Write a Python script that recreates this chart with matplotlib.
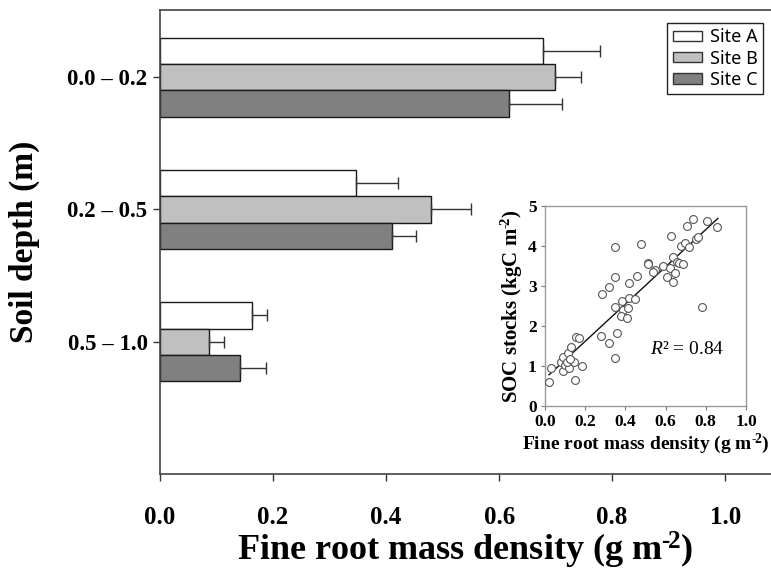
import numpy as np
import matplotlib
matplotlib.use("Agg")
import matplotlib.pyplot as plt
from matplotlib.patches import Patch

plt.rcParams['font.family'] = ['Liberation Serif', 'DejaVu Serif']
plt.rcParams['mathtext.fontset'] = 'custom'
plt.rcParams['mathtext.rm'] = 'Liberation Serif:bold'
plt.rcParams['mathtext.bf'] = 'Liberation Serif:bold'
plt.rcParams['mathtext.it'] = 'Liberation Serif:italic'

# Main bar chart data
depths = ['0.0 – 0.2', '0.2 – 0.5', '0.5 – 1.0']
sites = ['Site A', 'Site B', 'Site C']
site_a = [0.677, 0.347, 0.163]
site_b = [0.699, 0.480, 0.086]
site_c = [0.618, 0.411, 0.142]
err_a = [0.102, 0.074, 0.026]
err_b = [0.046, 0.071, 0.027]
err_c = [0.093, 0.042, 0.046]
bar_colors = ['#ffffff', '#c0c0c0', '#808080']
x_ticks = [0.0, 0.2, 0.4, 0.6, 0.8, 1.0]

# Inset scatter data (fine root mass density vs SOC stocks)
frmd = [0.020, 0.028, 0.078, 0.091, 0.090, 0.100, 0.121, 0.116, 0.128, 0.144,
        0.152, 0.169, 0.147, 0.186, 0.110, 0.125,
        0.277, 0.317, 0.348, 0.360, 0.347, 0.282, 0.320, 0.348, 0.348, 0.385,
        0.390, 0.376, 0.410, 0.415, 0.418, 0.420, 0.450, 0.459, 0.478,
        0.514, 0.510, 0.547, 0.539, 0.585, 0.609, 0.627, 0.622, 0.635, 0.637,
        0.647, 0.655, 0.668, 0.688, 0.675, 0.697, 0.705, 0.738, 0.718, 0.749,
        0.760, 0.780, 0.804, 0.857]
soc = [0.59, 0.94, 1.11, 1.22, 0.875, 1.03, 0.96, 1.32, 1.47, 1.11,
       1.73, 1.69, 0.64, 0.99, 1.10, 1.18,
       1.75, 1.57, 1.21, 1.82, 2.48, 2.79, 2.97, 3.22, 3.97, 2.63,
       2.40, 2.25, 2.19, 2.44, 2.69, 3.08, 2.68, 3.26, 4.06,
       3.58, 3.55, 3.40, 3.36, 3.50, 3.23, 4.26, 3.46, 3.73, 3.09,
       3.32, 3.61, 3.57, 3.55, 4.01, 4.07, 4.50, 4.67, 3.97, 4.18,
       4.23, 2.48, 4.62, 4.48]
fit_x = [0.02, 0.86]
fit_y = [0.78, 4.69]

unit = 'm$^{\u2010\\!2}$'

fig = plt.figure(figsize=(7.71, 5.76), dpi=100)
ax = fig.add_axes([160/771, 102/576, 611/771, 464/576])

y = np.arange(len(depths))
h = 0.2
ekw = dict(ecolor='#333333', elinewidth=1.0, capsize=4.5, capthick=1.0)
for vals, errs, col, off in zip([site_a, site_b, site_c], [err_a, err_b, err_c],
                                bar_colors, [-h, 0, h]):
    ax.barh(y + off, vals, height=h, color=col, edgecolor='#1a1a1a', linewidth=1.0,
            xerr=[np.zeros(len(errs)), errs], error_kw=ekw)

ax.set_ylim(3.0, -0.508)
ax.set_xlim(0, 1.081)
ax.set_yticks(y)
ax.set_yticklabels(depths, fontsize=16.5, fontweight='bold')
ax.set_xticks(x_ticks)
ax.set_xticklabels([f'{t:.1f}' for t in x_ticks], fontsize=18, fontweight='bold')
ax.tick_params(axis='both', direction='out', length=5, width=1, color='#333333')
ax.tick_params(axis='x', pad=18)
ax.tick_params(axis='y', pad=4)
for s in ['left', 'bottom', 'top']:
    ax.spines[s].set_color('#444444')
    ax.spines[s].set_linewidth(1.2)
ax.spines['right'].set_visible(False)
ax.set_xlabel('Fine root mass density (g ' + unit + ')', fontsize=26, fontweight='bold', labelpad=1)
ax.set_ylabel('Soil depth (m)', fontsize=24, fontweight='bold', labelpad=20)

handles = [Patch(facecolor=c, edgecolor='#333333', linewidth=1.0) for c in bar_colors]
leg = ax.legend(handles, sites, loc='upper right',
                fancybox=False, edgecolor='#222222', framealpha=1,
                prop={'family': 'Noto Sans', 'weight': 'bold', 'size': 13},
                handlelength=1.6, handleheight=0.5, labelspacing=0.18, handletextpad=0.45,
                borderpad=0.3, borderaxespad=0)
leg.set_bbox_to_anchor((763/771, 1 - 23/576), transform=fig.transFigure)
leg.get_frame().set_linewidth(1.0)

# Inset scatter
ins = fig.add_axes([545/771, 170/576, 201/771, 200/576])
ins.scatter(frmd, soc, s=32, facecolors='white', edgecolors='#555555', linewidths=0.8, zorder=3)
ins.plot(fit_x, fit_y, color='#111111', linewidth=1.0, zorder=2)
ins.set_xlim(0, 1.0)
ins.set_ylim(0, 5)
ins.set_xticks(x_ticks)
ins.set_xticklabels([f'{t:.1f}' for t in x_ticks], fontsize=12.5, fontweight='bold')
ins.set_yticks([0, 1, 2, 3, 4, 5])
ins.set_yticklabels(['0', '1', '2', '3', '4', '5'], fontsize=12.5, fontweight='bold')
ins.tick_params(direction='out', length=3, width=0.8, color='#777777', pad=3)
for s in ins.spines.values():
    s.set_color('#999999')
    s.set_linewidth(1.0)
ins.set_xlabel('Fine root mass density (g ' + unit + ')', fontsize=14, fontweight='bold', labelpad=1)
ins.set_ylabel('SOC stocks (kgC ' + unit + ')', fontsize=15, fontweight='bold', labelpad=2)
ins.text(0.71, 1.42, '$\\mathit{R}$² = 0.84', fontsize=14, ha='center', va='center')

fig.savefig('out.png', dpi=100)
